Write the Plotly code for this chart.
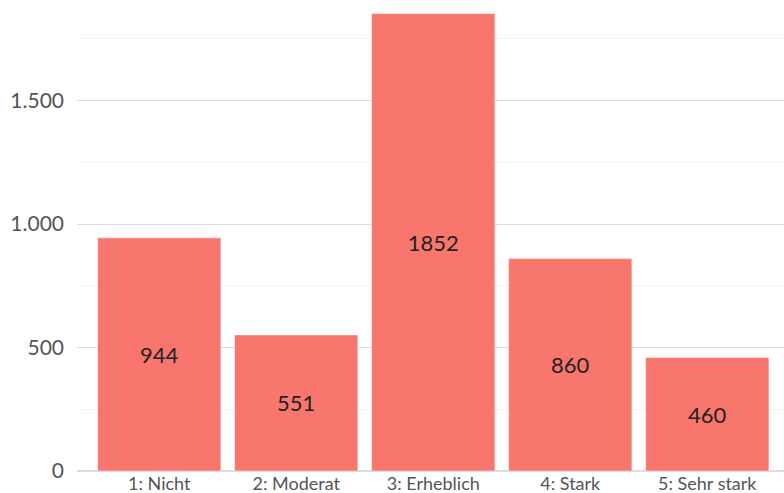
import plotly.graph_objects as go

categories = ["1: Nicht", "2: Moderat", "3: Erheblich", "4: Stark", "5: Sehr stark"]
counts = [944, 551, 1852, 860, 460]

fig = go.Figure()
fig.add_trace(go.Bar(
    x=categories,
    y=counts,
    text=[str(c) for c in counts],
    texttemplate="%{text}",
    textposition="inside",
    insidetextanchor="middle",
    textfont=dict(size=22, color="#222222"),
    marker=dict(color="#F8766D", line=dict(color="white", width=0.5)),
    width=0.9,
))

fig.update_layout(
    width=784, height=493,
    margin=dict(l=77, r=0, t=0, b=22),
    plot_bgcolor="white", paper_bgcolor="white",
    font=dict(family="Lato, Open Sans, sans-serif", color="#555555"),
    separators=",.",
    showlegend=False,
    xaxis=dict(
        range=[-0.6, 4.56],
        showgrid=False, zeroline=False, automargin=False,
        tickfont=dict(size=18, color="#555555"),
        ticks="", ticklabelstandoff=0,
    ),
    yaxis=dict(
        range=[0, 1907],
        dtick=500, tickformat=",d", automargin=False,
        showgrid=True, gridcolor="#dcdcdc", gridwidth=1,
        zeroline=True, zerolinecolor="#dcdcdc",
        minor=dict(dtick=250, showgrid=True, gridcolor="#f3f3f3"),
        tickfont=dict(size=21, color="#555555"),
        ticks="", ticklabelstandoff=12,
    ),
)

# page body has a default 8px margin; drop it so the figure fills the window
fig.write_html("out.html", config={"displayModeBar": False},
               post_script="document.body.style.margin='0';")
